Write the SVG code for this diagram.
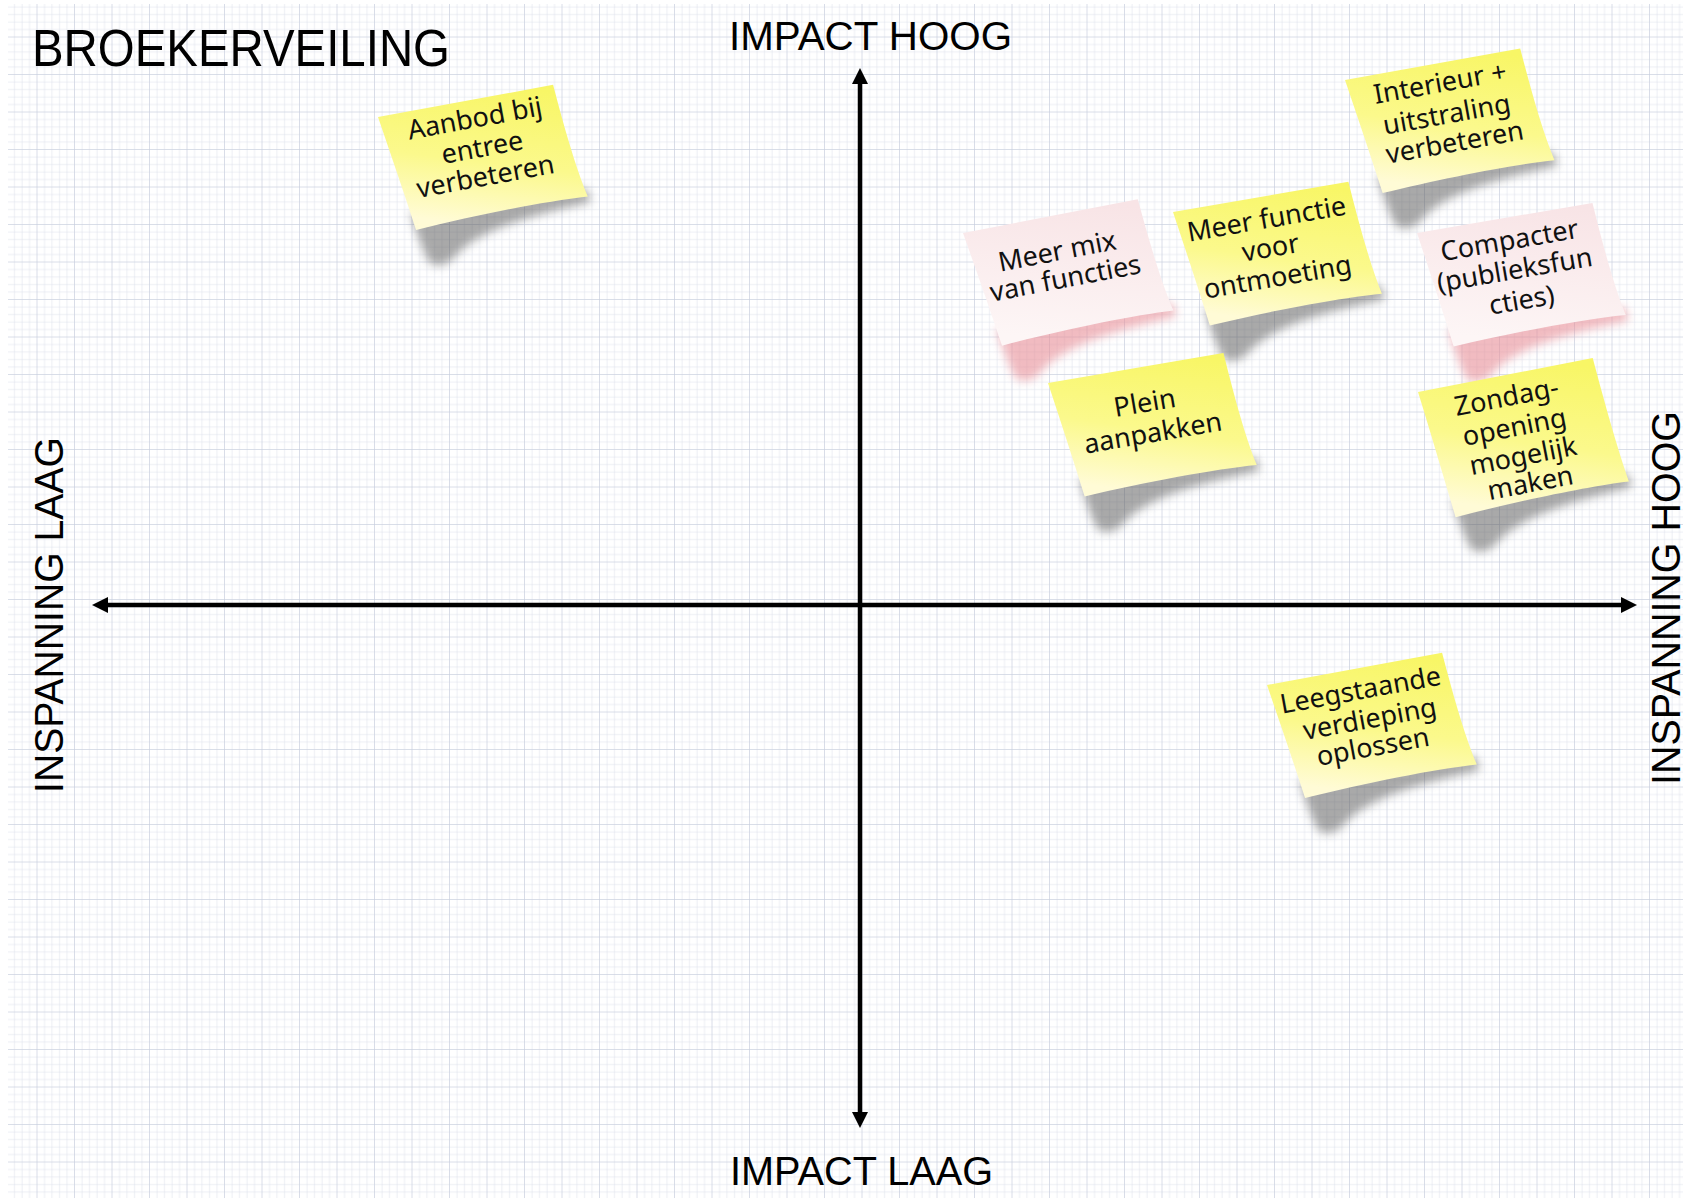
<svg xmlns="http://www.w3.org/2000/svg" width="1691" height="1202" viewBox="0 0 1691 1202">
<style>
.axis{font-family:"Liberation Sans",Arial,sans-serif;fill:#000;}
.hand{font-family:"Noto Sans","DejaVu Sans",sans-serif;font-size:27px;fill:#111;text-anchor:middle;}
.ax{stroke:#000;stroke-width:4.5;fill:none;}
</style>
<defs>
<pattern id="minor" width="7.5" height="7.5" patternUnits="userSpaceOnUse"><path d="M7.5 0V7.5H0" fill="none" stroke="#d9dee9" stroke-width="1"/></pattern>
<pattern id="major" width="37.5" height="37.5" patternUnits="userSpaceOnUse"><rect width="37.5" height="37.5" fill="url(#minor)"/><path d="M37.5 0V37.5H0" fill="none" stroke="#c6cddc" stroke-width="1"/></pattern>
<linearGradient id="yel" x1="0.8" y1="0" x2="0.3" y2="1"><stop offset="0" stop-color="#f8f666"/><stop offset="0.55" stop-color="#fbf98c"/><stop offset="1" stop-color="#fffbd6"/></linearGradient>
<linearGradient id="pnk" x1="0.8" y1="0" x2="0.3" y2="1"><stop offset="0" stop-color="#f8e4e6"/><stop offset="1" stop-color="#fdf6f6"/></linearGradient>
<filter id="blur" x="-40%" y="-40%" width="180%" height="180%"><feGaussianBlur stdDeviation="5"/></filter>
<path id="shape" d="M0,0 L178,0 C181,40 185,85 192,116 C150,113 80,114 17,118 C12,80 6,40 0,0 Z"/>
<path id="shapeT" d="M0,0 L178,0 C181,45 185,95 190,128 C150,125 80,126 13,130 C9,90 5,45 0,0 Z"/>
<path id="shad" d="M15,100 L192,108 L194,122 C140,124 80,128 52,150 C42,158 32,160 24,152 C19,135 16,115 15,100 Z"/>
<path id="shadT" d="M13,112 L190,120 L192,134 C140,136 80,140 50,162 C40,170 30,172 22,164 C17,147 14,127 13,112 Z"/>
<marker id="ah" viewBox="0 -8 16 16" refX="0" refY="0" markerWidth="16" markerHeight="16" markerUnits="userSpaceOnUse" orient="auto-start-reverse"><path d="M0,-8 L16,0 L0,8 Z" fill="#000"/></marker>
</defs>
<rect width="1691" height="1202" fill="#fff"/>
<rect x="8" y="4" width="1675" height="1194" fill="url(#major)"/>

<g id="labels">
<text class="axis" x="32" y="66" font-size="51" textLength="418" lengthAdjust="spacingAndGlyphs">BROEKERVEILING</text>
<text class="axis" x="729" y="50" font-size="40" textLength="283" lengthAdjust="spacingAndGlyphs">IMPACT HOOG</text>
<text class="axis" x="730" y="1185" font-size="41" textLength="263" lengthAdjust="spacingAndGlyphs">IMPACT LAAG</text>
<text class="axis" transform="translate(63,615) rotate(-90)" text-anchor="middle" font-size="41" textLength="356" lengthAdjust="spacingAndGlyphs">INSPANNING LAAG</text>
<text class="axis" transform="translate(1680,598) rotate(-90)" text-anchor="middle" font-size="41" textLength="374" lengthAdjust="spacingAndGlyphs">INSPANNING HOOG</text>
</g>

<g id="connectors">
<line class="ax" x1="860" y1="84" x2="860" y2="1112" marker-start="url(#ah)" marker-end="url(#ah)"/>
<line class="ax" x1="108" y1="605" x2="1621" y2="605" marker-start="url(#ah)" marker-end="url(#ah)"/>
</g>

<g id="note-aanbod" transform="translate(378,117) rotate(-10.4)">
<use href="#shad" fill="#555" opacity="0.5" filter="url(#blur)"/>
<use href="#shape" fill="url(#yel)"/>
<text class="hand" x="95" y="28">Aanbod bij</text>
<text class="hand" x="97" y="58">entree</text>
<text class="hand" x="95" y="87">verbeteren</text>
</g>

<g id="note-meermix" transform="translate(963,233) rotate(-10.9)">
<use href="#shad" fill="#e88f98" opacity="0.6" filter="url(#blur)"/>
<use href="#shape" fill="url(#pnk)"/>
<text class="hand" x="89" y="45">Meer mix</text>
<text class="hand" x="92" y="73">van functies</text>
</g>

<g id="note-meerfunctie" transform="translate(1173,212) rotate(-9.8)">
<use href="#shad" fill="#555" opacity="0.5" filter="url(#blur)"/>
<use href="#shape" fill="url(#yel)"/>
<text class="hand" x="91" y="32">Meer functie</text>
<text class="hand" x="90" y="61">voor</text>
<text class="hand" x="92" y="91">ontmoeting</text>
</g>

<g id="note-interieur" transform="translate(1345,80) rotate(-10.2)">
<use href="#shad" fill="#555" opacity="0.5" filter="url(#blur)"/>
<use href="#shape" fill="url(#yel)"/>
<text class="hand" x="93" y="29">Interieur +</text>
<text class="hand" x="94" y="61">uitstraling</text>
<text class="hand" x="97" y="90">verbeteren</text>
</g>

<g id="note-compacter" transform="translate(1417,233) rotate(-9.7)">
<use href="#shad" fill="#e88f98" opacity="0.6" filter="url(#blur)"/>
<use href="#shape" fill="url(#pnk)"/>
<text class="hand" x="90" y="32">Compacter</text>
<text class="hand" x="90" y="62">(publieksfun</text>
<text class="hand" x="92" y="93">cties)</text>
</g>

<g id="note-plein" transform="translate(1048,383) rotate(-9.7)">
<use href="#shad" fill="#555" opacity="0.5" filter="url(#blur)"/>
<use href="#shape" fill="url(#yel)"/>
<text class="hand" x="92" y="45">Plein</text>
<text class="hand" x="95" y="76">aanpakken</text>
</g>

<g id="note-zondag" transform="translate(1418,392) rotate(-11)">
<use href="#shadT" fill="#555" opacity="0.5" filter="url(#blur)"/>
<use href="#shapeT" fill="url(#yel)"/>
<text class="hand" x="86" y="31">Zondag-</text>
<text class="hand" x="88" y="62">opening</text>
<text class="hand" x="91" y="92">mogelijk</text>
<text class="hand" x="93" y="120">maken</text>
</g>

<g id="note-leegstaande" transform="translate(1267,685) rotate(-10.4)">
<use href="#shad" fill="#555" opacity="0.5" filter="url(#blur)"/>
<use href="#shape" fill="url(#yel)"/>
<text class="hand" x="91" y="31">Leegstaande</text>
<text class="hand" x="95" y="61">verdieping</text>
<text class="hand" x="93" y="89">oplossen</text>
</g>
</svg>
